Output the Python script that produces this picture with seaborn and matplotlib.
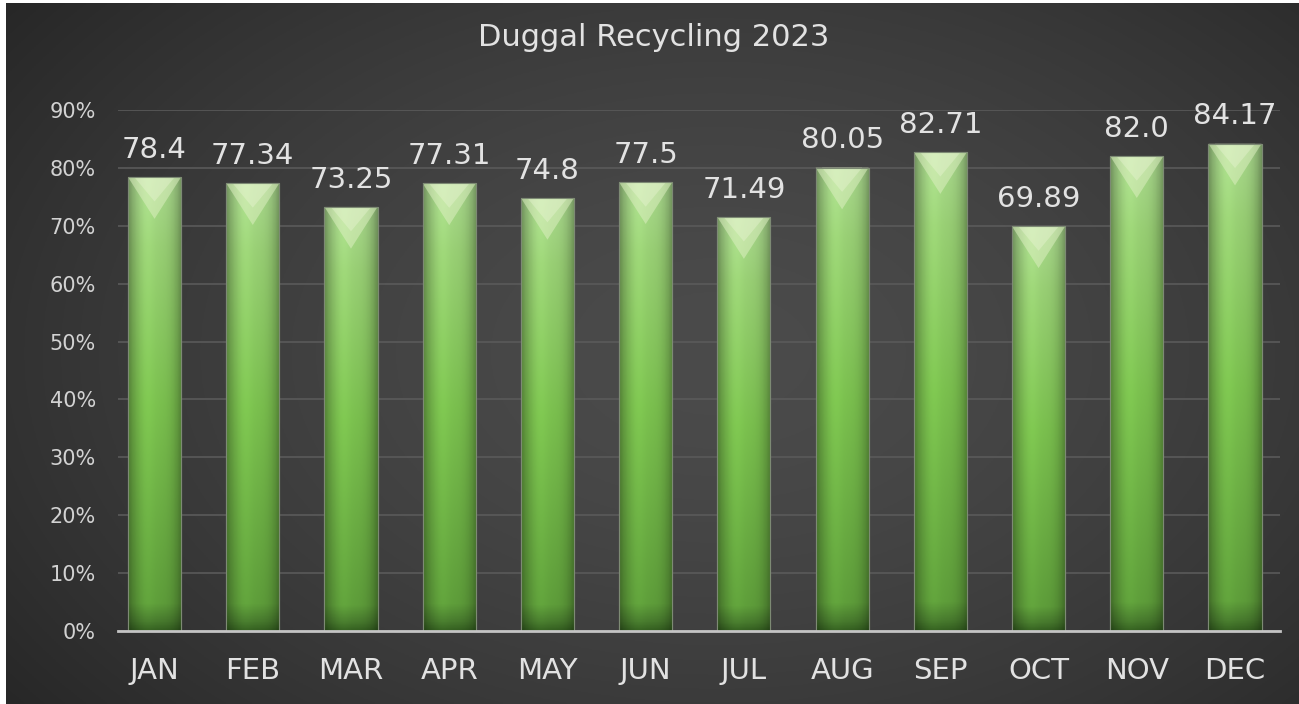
import numpy as np
import matplotlib.pyplot as plt
import seaborn as sns
from matplotlib.patches import Polygon
from matplotlib.colors import to_rgb

# data
months = ["JAN", "FEB", "MAR", "APR", "MAY", "JUN", "JUL", "AUG", "SEP", "OCT", "NOV", "DEC"]
rates = [78.4, 77.34, 73.25, 77.31, 74.8, 77.5, 71.49, 80.05, 82.71, 69.89, 82.0, 84.17]
rate_labels = ["78.4", "77.34", "73.25", "77.31", "74.8", "77.5", "71.49", "80.05", "82.71", "69.89", "82.0", "84.17"]
yticks = [0, 10, 20, 30, 40, 50, 60, 70, 80, 90]
ytick_labels = ["0%", "10%", "20%", "30%", "40%", "50%", "60%", "70%", "80%", "90%"]
title = "Duggal Recycling 2023"

sns.set_style("dark")
plt.rcParams['font.family'] = ['DejaVu Sans']

W, H = 1299, 704
fig = plt.figure(figsize=(W / 100, H / 100), dpi=100, facecolor="white")

# dark radial background
bg = fig.add_axes([6 / W, 0, 1 - 6 / W, 1 - 3 / H])
gy, gx = np.mgrid[0:1:300j, 0:1:600j]
r = np.sqrt(((gx - 0.55) / 0.75) ** 2 + ((gy - 0.5) / 0.9) ** 2)
r = np.clip(r, 0, 1)
c_in, c_out = np.array(to_rgb("#4b4b4b")), np.array(to_rgb("#222222"))
img = c_in[None, None, :] * (1 - r[..., None] ** 1.6) + c_out[None, None, :] * (r[..., None] ** 1.6)
bg.imshow(img, extent=[0, 1, 0, 1], aspect="auto", origin="lower")
bg.axis("off")

ax = fig.add_axes([118 / W, 1 - 631 / H, (1280 - 118) / W, (631 - 110) / H])
ax.set_facecolor("none")

sns.barplot(x=months, y=rates, color="#7cc04f", width=0.54, ax=ax,
            edgecolor="#7d8a74", linewidth=0.8, zorder=3)

# green gradient fill with a bevelled cap on each bar
stops_t = np.array([0.0, 0.02, 0.06, 0.5, 0.85, 1.0])
stops_c = np.array([to_rgb(c) for c in ["#345f20", "#47792d", "#5e9d3a", "#7abf4e", "#98ce74", "#aad98e"]])
tv = np.linspace(0, 1, 300)
col = np.stack([np.interp(tv, stops_t, stops_c[:, k]) for k in range(3)], axis=1)
u = np.linspace(0, 1, 40)
shade = 1 - 0.32 * np.abs(2 * u - 1) ** 3 + 0.06 * np.exp(-((u - 0.35) / 0.15) ** 2)
grad = np.clip(col[:, None, :] * shade[None, :, None], 0, 1)

for p in ax.patches:
    x0, w, h = p.get_x(), p.get_width(), p.get_height()
    im = ax.imshow(grad, extent=(x0, x0 + w, 0, h), origin="lower", aspect="auto", zorder=3.5)
    im.set_clip_path(p)
    cap = Polygon([(x0, h), (x0 + w, h), (x0 + w / 2, h - 7.2)], closed=True,
                  facecolor="#dcefc0", edgecolor="none", alpha=0.55, zorder=4)
    ax.add_patch(cap)
    cap2 = Polygon([(x0 + w * 0.12, h), (x0 + w * 0.88, h), (x0 + w / 2, h - 4.2)], closed=True,
                   facecolor="#f0f8dc", edgecolor="none", alpha=0.35, zorder=4)
    ax.add_patch(cap2)
    edge = plt.Rectangle((x0, 0), w, h, fill=False, edgecolor="#7d8a74", linewidth=0.8, zorder=4.5)
    ax.add_patch(edge)

for i, (v, lab) in enumerate(zip(rates, rate_labels)):
    ax.annotate(lab, (i, v), xytext=(0, 14), textcoords="offset points",
                ha="center", va="baseline", fontsize=21, color="#e2e2e2", zorder=6)

ax.set_xlim(-0.372, 11.458)
ax.set_ylim(0, 90)
ax.set_yticks(yticks)
ax.set_yticklabels(ytick_labels)
ax.set_xlabel("")
ax.set_ylabel("")
ax.grid(axis="y", color="#5a5a5a", linewidth=1.2)
ax.grid(axis="x", visible=False)
ax.set_axisbelow(True)
ax.tick_params(axis="y", length=0, pad=16, labelsize=15, labelcolor="#d2d2d2")
ax.tick_params(axis="x", length=0, pad=19, labelsize=21, labelcolor="#e2e2e2")
for s in ["top", "right", "left"]:
    ax.spines[s].set_visible(False)
ax.spines["bottom"].set_color("#c4c4c4")
ax.spines["bottom"].set_linewidth(2)
ax.spines["bottom"].set_zorder(5)

fig.text(654 / W, 1 - 37 / H, title, ha="center", va="center", fontsize=22, color="#e2e2e2")

fig.savefig("out.png", dpi=100, facecolor=fig.get_facecolor())
